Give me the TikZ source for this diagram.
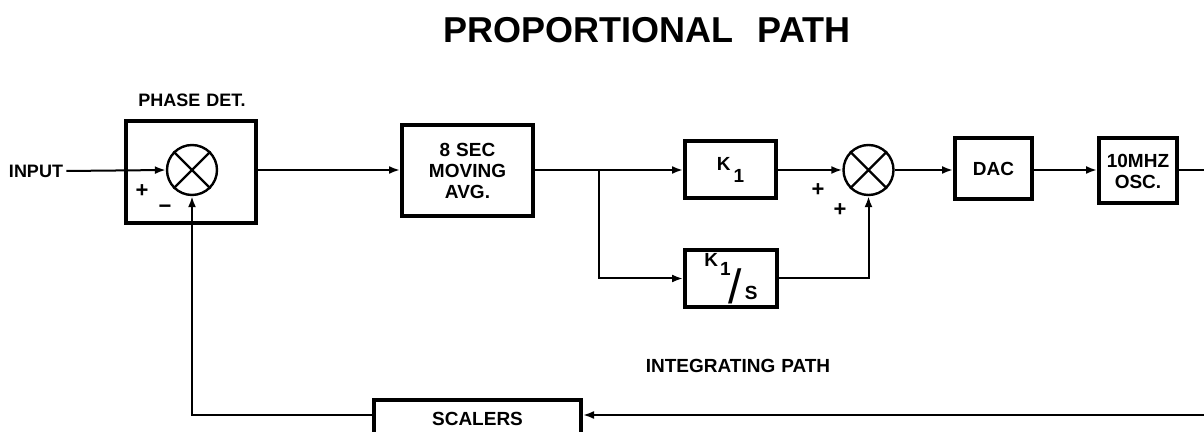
\documentclass[tikz,border=0pt]{standalone}
\usepackage{fontspec}
\setmainfont{Liberation Sans}
\usetikzlibrary{arrows.meta}
\tikzset{
  >={Latex[length=5.5pt,width=4pt]},
  blk/.style={draw,line width=2pt,inner sep=0pt,align=center,
    font=\bfseries\fontsize{9.5}{10.5}\selectfont},
  sumc/.style={draw,circle,line width=1.2pt,minimum size=25pt,inner sep=0pt},
  wire/.style={line width=1pt},
  lbl/.style={inner sep=0pt,font=\bfseries\fontsize{9}{10.5}\selectfont},
  sgn/.style={inner sep=0pt,font=\bfseries\fontsize{11}{12}\selectfont}
}
\begin{document}
\begin{tikzpicture}[x=0.5pt,y=-0.5pt]
\useasboundingbox (0,0) rectangle (1204,432);
\clip (0,0) rectangle (1204,432);
% title
\node[inner sep=0pt,font=\bfseries\fontsize{18}{20}\selectfont] (title) at (647,30) {PROPORTIONAL\hspace{12pt}PATH};
% phase detector
\node[lbl] (pdl) at (192,100) {PHASE\hspace{3pt}DET.};
\node[blk,minimum width=65pt,minimum height=51pt] (PD) at (191,172) {};
\node[sumc] (X1) at (192,170) {};
\draw[line width=1.2pt] (X1.45) -- (X1.225) (X1.135) -- (X1.315);
\node[sgn] (p1) at (142,191) {+};
\node[sgn] (m1) at (165,209) {−};
\node[lbl] (in) at (36,171) {INPUT};
% moving average
\node[blk,minimum width=65.5pt,minimum height=45.5pt] (MA) at (467.5,170.5) {8\hspace{3pt}SEC\\MOVING\\AVG.};
% K1
\node[blk,minimum width=45.5pt,minimum height=28.5pt] (K1) at (730.5,169.5) {K\kern1.5pt\raisebox{-6pt}{1}};
% K1/S
\node[blk,minimum width=46pt,minimum height=28.5pt] (K1s) at (731,278.5)
  {\raisebox{16.5pt}{K}\kern1pt\raisebox{12pt}{1}\kern-1pt\raisebox{-2pt}{\mdseries\fontsize{24}{24}\selectfont /}\kern1.5pt S};
% summing junction
\node[sumc] (X2) at (868.5,170) {};
\draw[line width=1.2pt] (X2.45) -- (X2.225) (X2.135) -- (X2.315);
\node[sgn] (p2) at (818,190) {+};
\node[sgn] (p3) at (840,210) {+};
% DAC, OSC
\node[blk,minimum width=38.5pt,minimum height=30.5pt] (DAC) at (993.5,169) {DAC};
\node[blk,minimum width=39pt,minimum height=32.5pt] (OSC) at (1138,171) {10MHZ\\OSC.};
% scalers
\node[blk,minimum width=103.5pt,minimum height=20pt,anchor=north] (SC) at (477.5,398) {\raisebox{1.5pt}{SCALERS}};
\node[lbl,font=\bfseries\fontsize{9.5}{10.5}\selectfont] (ip) at (738,366) {INTEGRATING\hspace{3pt}PATH};
% coordinates
\coordinate (br) at (599,170);
\coordinate (rt) at (1204,170);
\coordinate (rb) at (1204,415);
% wires
\draw[wire,->] (in.east) ++(3,0) -- (X1.west);
\draw[wire,->] (PD.east |- X1) -- (MA.west |- X1);
\draw[wire,->] (MA.east |- br) -- (K1.west |- br);
\draw[wire,->] (br) |- (K1s.west);
\draw[wire,->] (K1.east |- X2) -- (X2.west);
\draw[wire,->] (K1s.east) -| (X2.south);
\draw[wire,->] (X2.east) -- (DAC.west |- X2);
\draw[wire,->] (DAC.east |- X2) -- (OSC.west |- X2);
\draw[wire] (OSC.east |- rt) -- (rt);
\draw[wire,->] (rb) -- (rb -| SC.east);
\draw[wire,->] (rb -| SC.west) -| (X1.south);
\end{tikzpicture}
\end{document}
